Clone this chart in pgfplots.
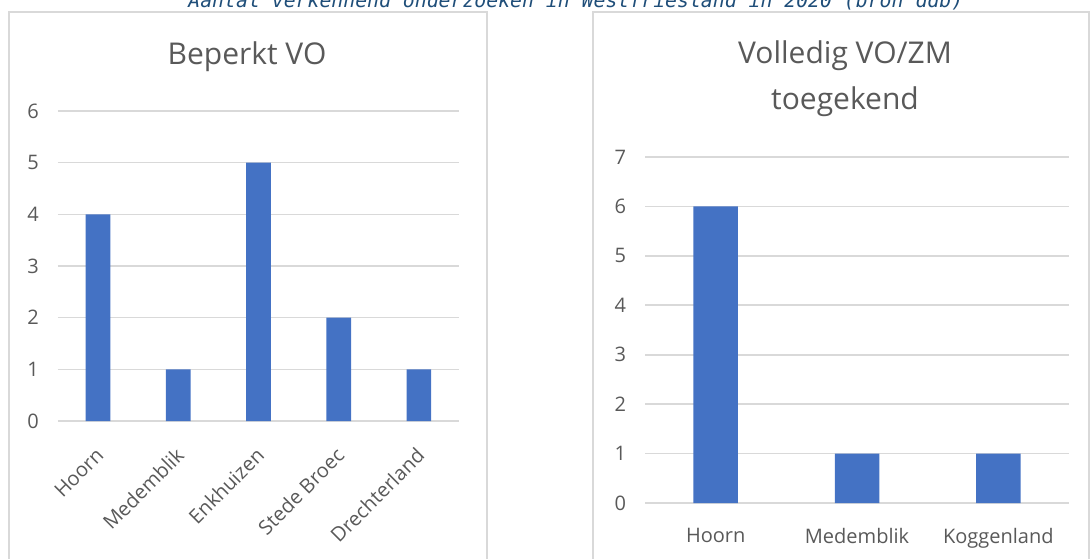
\documentclass[border=0pt]{standalone}
\usepackage{pgfplots}
\pgfplotsset{compat=1.18}
\usepackage{fontspec}
\setmainfont{Open Sans}
\newfontfamily\capfont{DejaVu Sans Mono}

\definecolor{barblue}{HTML}{4472C4}
\definecolor{txtgray}{HTML}{595959}
\definecolor{gridgray}{HTML}{D9D9D9}
\definecolor{capblue}{HTML}{1F4E79}

\pgfplotsset{
  excelbars/.style={
    ybar,
    scale only axis,
    anchor=south west,
    axis line style={draw=none},
    tick style={draw=none},
    ymin=0,
    ymajorgrids,
    major grid style={line width=0.8pt, draw=gridgray},
    xtick=data,
    ticklabel style={font=\fontsize{10}{12}\selectfont, text=txtgray},
    yticklabel style={xshift=-6pt},
    /pgf/number format/assume math mode=true,
    clip=false,
  }
}

\begin{document}
\begin{tikzpicture}
\useasboundingbox (0,0) rectangle (545pt,279pt);

% caption cut off at the top
\node[anchor=base west, inner sep=0pt, text=capblue,
      font=\capfont\itshape\fontsize{9.9}{12}\selectfont] at (94pt,275pt)
  {Aantal verkennend onderzoeken in Westfriesland in 2020 (bron ddb)};

% chart frames
\draw[gridgray, line width=0.8pt] (4.5pt,-5pt) -- (4.5pt,273pt) -- (243.5pt,273pt) -- (243.5pt,-5pt);
\draw[gridgray, line width=0.8pt] (296.5pt,-5pt) -- (296.5pt,273pt) -- (544.5pt,273pt) -- (544.5pt,-5pt);

% titles
\node[text=txtgray, font=\fontsize{15}{23}\selectfont] at (123.5pt,250.5pt) {Beperkt VO};
\node[text=txtgray, font=\fontsize{15}{23}\selectfont, align=center, anchor=north]
  at (422.5pt,262pt) {Volledig VO/ZM\\toegekend};

\begin{axis}[
  excelbars,
  at={(29pt,68.5pt)},
  width=200.5pt, height=155pt,
  xmin=-0.5, xmax=4.5,
  ymax=6, ytick={0,1,...,6},
  bar width=12.35pt,
  xticklabels={Hoorn,Medemblik,Enkhuizen,Stede Broec,Drechterland},
  xticklabel style={rotate=45, anchor=east, yshift=-8.5pt, xshift=-3.8pt},
]
\addplot[fill=barblue, draw=none] coordinates {(0,4) (1,1) (2,5) (3,2) (4,1)};
\end{axis}

\begin{axis}[
  excelbars,
  at={(322.5pt,27.5pt)},
  width=212pt, height=173pt,
  xmin=-0.5, xmax=2.5,
  ymax=7, ytick={0,1,...,7},
  bar width=22.25pt,
  xticklabels={Hoorn,Medemblik,Koggenland},
  xticklabel style={yshift=-5pt},
]
\addplot[fill=barblue, draw=none] coordinates {(0,6) (1,1) (2,1)};
\end{axis}
\end{tikzpicture}
\end{document}
